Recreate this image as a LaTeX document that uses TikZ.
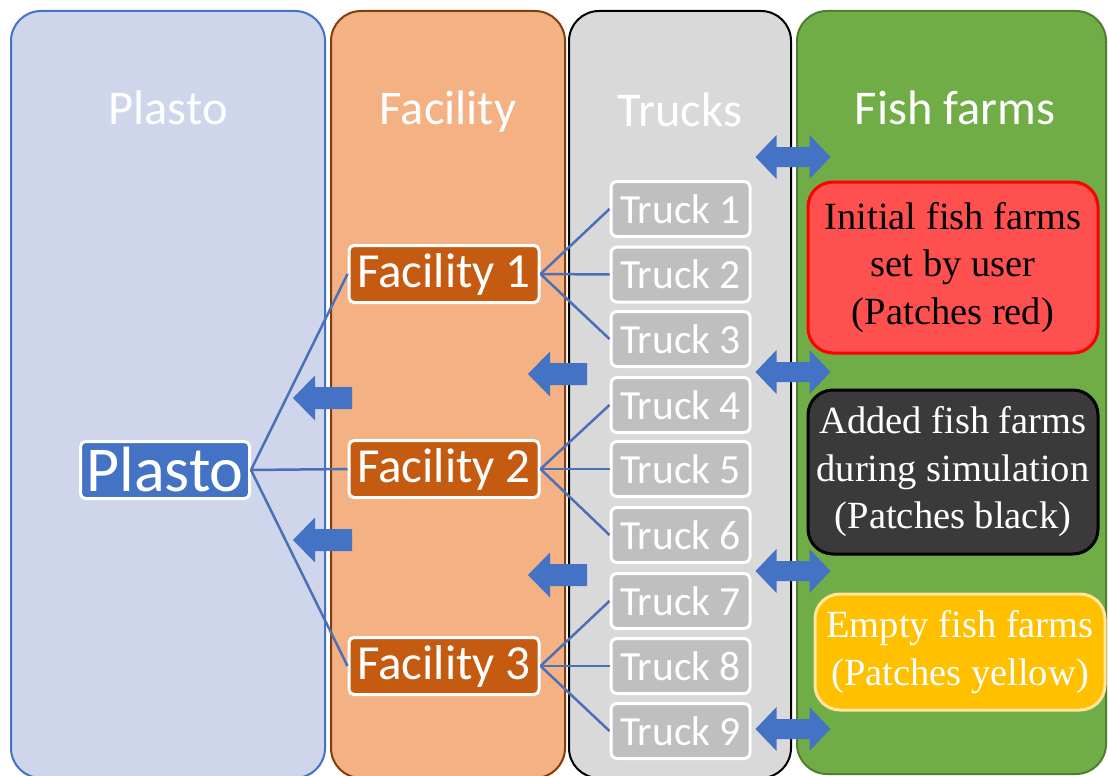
\documentclass[tikz,border=0pt]{standalone}
\usepackage{fontspec}
\setmainfont{Carlito}
\newfontfamily\serifface{Liberation Serif}
\definecolor{plastobg}{HTML}{CFD5EA}
\definecolor{plastoedge}{HTML}{4472C4}
\definecolor{facbg}{HTML}{F4B183}
\definecolor{facedge}{HTML}{843C0C}
\definecolor{facbox}{HTML}{C55A11}
\definecolor{truckbg}{HTML}{D9D9D9}
\definecolor{truckbox}{HTML}{BFBFBF}
\definecolor{farmbg}{HTML}{70AD47}
\definecolor{farmedge}{HTML}{507E32}
\definecolor{redfill}{HTML}{FF5050}
\definecolor{blackfill}{HTML}{3A3A3A}
\definecolor{yellowfill}{HTML}{FFC000}
\definecolor{yellowedge}{HTML}{FFE699}
\definecolor{arrowblue}{HTML}{4472C4}
\definecolor{linkblue}{HTML}{4A70B8}
\tikzset{
  panel/.style={line width=2pt, rounded corners=30pt},
  header/.style={text=white, anchor=base, font=\fontsize{48.5}{52}\selectfont},
  plastobox/.style={fill=plastoedge, draw=white, line width=3pt, rounded corners=5pt,
    text=white, minimum width=169pt, minimum height=57pt, inner sep=0pt,
    font=\fontsize{64}{68}\selectfont},
  facilitybox/.style={fill=facbox, draw=white, line width=3pt, rounded corners=5pt,
    text=white, minimum width=190pt, minimum height=57pt, inner sep=0pt,
    font=\fontsize{49}{52}\selectfont},
  truckbox/.style={fill=truckbox, draw=white, line width=3pt, rounded corners=6pt,
    text=white, minimum width=139pt, minimum height=55pt, inner sep=0pt,
    font=\fontsize{41.5}{44}\selectfont},
  farmbox/.style={line width=3pt, rounded corners=25pt, inner sep=0pt, align=center,
    font=\serifface\fontsize{38.5}{47.5}\selectfont},
  link/.style={draw=linkblue, line width=2.5pt},
  leftarr/.pic={\fill[arrowblue] (-29.5,0) -- (-7.5,-22.5) -- (-7.5,-11) -- (29.5,-11)
      -- (29.5,11) -- (-7.5,11) -- (-7.5,22.5) -- cycle;},
  botharr/.pic={\fill[arrowblue] (-37.5,0) -- (-16.5,-22) -- (-16.5,-10) -- (16.5,-10)
      -- (16.5,-22) -- (37.5,0) -- (16.5,22) -- (16.5,10) -- (-16.5,10) -- (-16.5,22) -- cycle;}
}
\begin{document}
\begin{tikzpicture}[x=1pt,y=-1pt]
\useasboundingbox (0,0) rectangle (1108,776);
\fill[white] (0,0) rectangle (1108,776);

% column panels
\draw[panel, fill=plastobg, draw=plastoedge] (11,11) rectangle (325,778);
\draw[panel, fill=facbg, draw=facedge] (331,11) rectangle (565,778);
\draw[panel, fill=truckbg, draw=black] (569,11) rectangle (791,778);
\draw[panel, fill=farmbg, draw=farmedge] (797,11) rectangle (1106,774);

% column headers
\node[header] (hplasto) at (168,124) {Plasto};
\node[header] (hfac) at (448,124) {Facility};
\node[header] (htruck) at (680,126) {Trucks};
\node[header] (hfarm) at (955,124) {Fish farms};

% transfer arrows
\pic at (322.5,398) {leftarr};
\pic at (322.5,540) {leftarr};
\pic at (557.5,374) {leftarr};
\pic at (557.5,575) {leftarr};
\pic at (793,157) {botharr};
\pic at (793,372) {botharr};
\pic at (793,571) {botharr};
\pic at (793,729) {botharr};

% tree of nodes
\node[plastobox] (plasto) at (165,470) {Plasto};
\node[facilitybox] (f1) at (444,274) {Facility 1};
\node[facilitybox] (f2) at (444,469) {Facility 2};
\node[facilitybox] (f3) at (444,666) {Facility 3};
\foreach \i/\y in {1/209,2/274.5,3/339,4/405,5/469,6/535,7/601,8/666,9/731}
  \node[truckbox] (t\i) at (680.5,\y) {Truck \i};

\draw[link] (plasto.east) -- (f1.west);
\draw[link] (plasto.east) -- (f2.west);
\draw[link] (plasto.east) -- (f3.west);
\foreach \f/\a/\b/\c in {f1/1/2/3, f2/4/5/6, f3/7/8/9} {
  \draw[link] (\f.east) -- (t\a.west);
  \draw[link] (\f.east) -- (t\b.west);
  \draw[link] (\f.east) -- (t\c.west);
}

% fish farm categories
\node[farmbox, fill=redfill, draw=red, minimum width=290pt, minimum height=171pt]
  (red) at (953,267.5) {Initial fish farms\\set by user\\(Patches red)};
\node[farmbox, fill=blackfill, draw=black, text=white, minimum width=290pt, minimum height=164pt]
  (blk) at (953,472) {Added fish farms\\during simulation\\(Patches black)};
\node[farmbox, fill=yellowfill, draw=yellowedge, text=white, minimum width=290pt, minimum height=116pt]
  (yel) at (960,652) {Empty fish farms\\(Patches yellow)};
\end{tikzpicture}
\end{document}
